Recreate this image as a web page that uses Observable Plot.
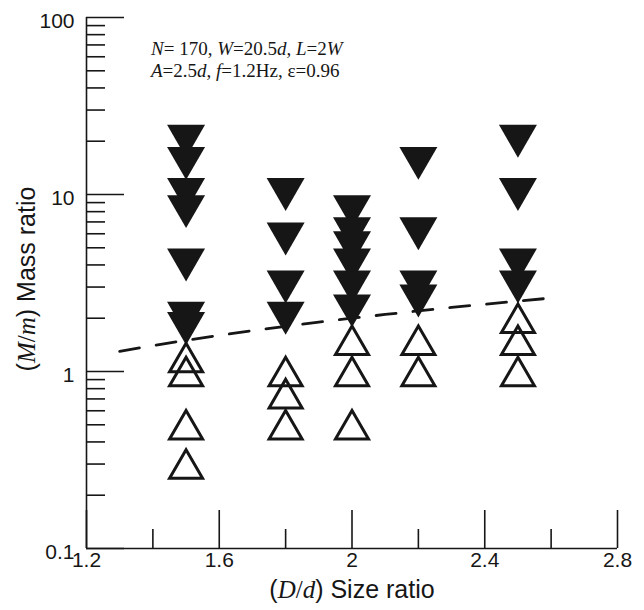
<!DOCTYPE html>
<html><head><meta charset="utf-8">
<script src="https://cdn.jsdelivr.net/npm/d3@7"></script>
<script src="https://cdn.jsdelivr.net/npm/@observablehq/plot@0.6"></script>
<style>body{margin:0;background:#fff}</style>
</head><body><div id="chart"></div>
<script>
// Filled (down) triangles: size ratio D/d and mass ratio M/m
const filledX = [1.5,1.5,1.5,1.5,1.5,1.5,1.5, 1.8,1.8,1.8,1.8, 2.0,2.0,2.0,2.0,2.0,2.0, 2.2,2.2,2.2,2.2, 2.5,2.5,2.5,2.5];
const filledY = [20,15,10,8,4,2,1.75, 10,5.6,3,2, 8,6,5,4,3,2.2, 15,6,3,2.5, 20,10,4,3];
// Open (up) triangles
const openX = [1.5,1.5,1.5,1.5, 1.8,1.8,1.8, 2.0,2.0,2.0, 2.2,2.2, 2.5,2.5,2.5];
const openY = [1.2,1.0,0.5,0.3, 1.0,0.75,0.5, 1.5,1.0,0.5, 1.5,1.0, 2.0,1.5,1.0];
// Dashed boundary line M/m = D/d
const lineX = [1.3,1.4,1.5,1.6,1.7,1.8,1.9,2.0,2.1,2.2,2.3,2.4,2.5,2.6];
const lineY = [1.3,1.4,1.5,1.6,1.7,1.8,1.9,2.0,2.1,2.2,2.3,2.4,2.5,2.6];
// Ticks
const xMajor = [1.2,1.6,2.0,2.4,2.8];
const xMinor = [1.4,1.8,2.2,2.6];
const xTickLabels = ["1.2","1.6","2","2.4","2.8"];
const yMajor = [0.1,1,10,100];
const yMinor = [0.2,0.3,0.4,0.5,0.6,0.7,0.8,0.9, 2,3,4,5,6,7,8,9, 20,30,40,50,60,70,80,90];
const yTickLabels = ["0.1","1","10","100"];

const filled = filledX.map((x,i)=>({x, y: filledY[i]}));
const open = openX.map((x,i)=>({x, y: openY[i]}));
const line = lineX.map((x,i)=>({x, y: lineY[i]}));
const xLab = xMajor.map((v,i)=>({v, t: xTickLabels[i]}));
const yLab = yMajor.map((v,i)=>({v, t: yTickLabels[i]}));

const triDown = {draw(ctx, size){const r=Math.sqrt(size/Math.PI), h=r*Math.sqrt(3);
  ctx.moveTo(-r,-h/2); ctx.lineTo(r,-h/2); ctx.lineTo(0,h/2); ctx.closePath();}};
const triUp = {draw(ctx, size){const r=Math.sqrt(size/Math.PI), h=r*Math.sqrt(3);
  ctx.moveTo(0,-h/2); ctx.lineTo(r,h/2); ctx.lineTo(-r,h/2); ctx.closePath();}};

const W=644, H=610, mT=17, mR=27, mB=62, mL=86;
const fw = W-mL-mR, fh = H-mT-mB;
const ink = "#161616";

const svg = Plot.plot({
  width: W, height: H,
  marginTop: mT, marginRight: mR, marginBottom: mB, marginLeft: mL,
  style: {fontFamily: "'Liberation Sans', Arial, sans-serif", background: "white", color: ink},
  x: {domain: [1.2, 2.8], axis: null},
  y: {type: "log", domain: [0.1, 100], axis: null},
  marks: [
    Plot.ruleX([1.2], {stroke: ink, strokeWidth: 1.6}),
    Plot.ruleY([0.1], {stroke: ink, strokeWidth: 1.6}),
    Plot.tickX(xMajor, {x: d=>d, insetTop: fh-38, stroke: ink, strokeWidth: 1.6}),
    Plot.tickX(xMinor, {x: d=>d, insetTop: fh-19, stroke: ink, strokeWidth: 1.6}),
    Plot.tickY(yMajor, {y: d=>d, insetRight: fw-38, stroke: ink, strokeWidth: 1.6}),
    Plot.tickY(yMinor, {y: d=>d, insetRight: fw-19, stroke: ink, strokeWidth: 1.6}),
    Plot.text(xLab, {x: "v", text: "t", frameAnchor: "bottom", dy: 18, fontSize: 21, fill: ink}),
    Plot.text(yLab, {y: "v", text: "t", frameAnchor: "left", textAnchor: "end", dx: -12, dy: 4, fontSize: 21, fill: ink}),
    Plot.dot(filled, {x: "x", y: "y", symbol: triDown, r: 19, fill: ink, stroke: "none"}),
    Plot.dot(open, {x: "x", y: "y", symbol: triUp, r: 16.5, fill: "none", stroke: ink, strokeWidth: 3}),
    Plot.line(line, {x: "x", y: "y", stroke: ink, strokeWidth: 2.8, strokeDasharray: "20,17", curve: "linear"})
  ]
});
document.getElementById("chart").appendChild(svg);

const s = d3.select(svg);
const serif = "'Liberation Serif', 'Times New Roman', serif";
function addParts(t, parts){
  parts.forEach(([txt, st]) => {
    const ts = t.append("tspan").text(txt);
    if (st && st.includes("i")) ts.attr("font-style","italic");
    if (st && st.includes("s")) ts.attr("font-family", serif);
  });
}
// x title
const xt = s.append("text").attr("x", 352).attr("y", 598).attr("text-anchor","middle")
  .attr("font-size", 25).attr("fill", ink).attr("font-family","'Liberation Sans', Arial, sans-serif");
addParts(xt, [["("],["D","is"],["/","s"],["d","is"],[")"],[" Size ratio"]]);
// y title
const yt = s.append("text").attr("transform","translate(35,279) rotate(-90)").attr("text-anchor","middle")
  .attr("font-size", 25).attr("fill", ink).attr("font-family","'Liberation Sans', Arial, sans-serif");
addParts(yt, [["("],["M","is"],["/","s"],["m","is"],[")"],[" Mass ratio"]]);
// annotation
const a1 = s.append("text").attr("x", 151).attr("y", 55).attr("text-anchor","start").attr("font-size", 19).attr("fill", ink).attr("font-family", serif);
addParts(a1, [["N","i"],["= 170, "],["W","i"],["=20.5"],["d","i"],[", "],["L","i"],["=2"],["W","i"]]);
const a2 = s.append("text").attr("x", 151).attr("y", 77).attr("text-anchor","start").attr("font-size", 19).attr("fill", ink).attr("font-family", serif);
addParts(a2, [["A","i"],["=2.5"],["d","i"],[", "],["f","i"],["=1.2Hz, ε=0.96"]]);
</script>
</body></html>
